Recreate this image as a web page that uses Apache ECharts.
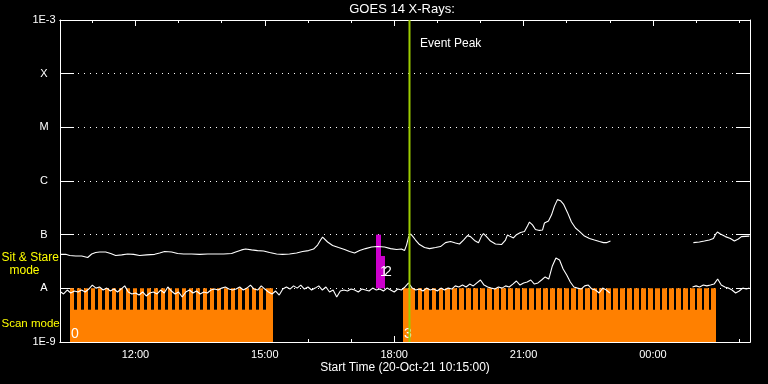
<!DOCTYPE html>
<html><head><meta charset="utf-8">
<script src="https://cdn.jsdelivr.net/npm/echarts@6/dist/echarts.min.js"></script>
<style>html,body{margin:0;padding:0;background:#000;}#c{width:768px;height:384px;}</style>
</head><body><div id="c"></div>
<script>
// ---- axis definitions (hours since 20-Oct-21 00:00) ----
const xMinHour = 10.25, xMaxHour = 26.25;
const xMajorTicks = [12, 15, 18, 21, 24];
const xMajorLabels = ['12:00', '15:00', '18:00', '21:00', '00:00'];
const xMinorTicks = [11, 13, 14, 16, 17, 19, 20, 22, 23, 25, 26];
const yTickExponents = [-9, -8, -7, -6, -5, -4, -3];
const yTickLabels = ['1E-9', 'A', 'B', 'C', 'M', 'X', '1E-3'];

// ---- long channel (upper curve), [hour, W/m^2] ----
const longChannelA = [
 [10.266,4.3e-8],[10.382,4.3e-8],[10.475,4.1e-8],[10.614,4.0e-8],[10.753,4.0e-8],[10.892,3.75e-8],
 [10.985,4.36e-8],[11.077,4.65e-8],[11.170,4.75e-8],[11.309,4.75e-8],[11.425,4.45e-8],[11.541,4.1e-8],
 [11.680,4.2e-8],[11.819,4.36e-8],[11.958,4.3e-8],[12.097,4.1e-8],[12.259,4.2e-8],[12.445,4.3e-8],
 [12.561,4.55e-8],[12.676,4.85e-8],[12.839,4.75e-8],[12.978,4.45e-8],[13.117,4.36e-8],[13.302,4.36e-8],
 [13.488,4.3e-8],[13.673,4.36e-8],[13.859,4.36e-8],[14.044,4.36e-8],[14.229,4.45e-8],[14.322,4.75e-8],
 [14.461,5.2e-8],[14.554,5.4e-8],[14.693,5.2e-8],[14.832,5.05e-8],[14.971,4.96e-8],[15.110,4.65e-8],
 [15.272,4.36e-8],[15.411,4.3e-8],[15.573,4.36e-8],[15.736,4.55e-8],[15.875,4.85e-8],[16.014,5.05e-8],
 [16.130,5.4e-8],[16.223,6.4e-8],[16.292,7.95e-8],[16.339,9.0e-8],[16.385,8.7e-8],[16.455,7.3e-8],
 [16.571,6.3e-8],[16.710,5.75e-8],[16.849,5.3e-8],[16.965,4.85e-8],[17.081,4.55e-8],[17.197,5.05e-8],
 [17.336,5.5e-8],[17.475,5.9e-8],[17.614,6.0e-8],[17.776,5.9e-8],[17.915,5.5e-8],[18.054,5.3e-8],
 [18.170,5.4e-8],[18.239,5.05e-8],[18.286,6.4e-8],[18.332,9.0e-8],[18.378,1.03e-7],[18.425,9.4e-8],
 [18.494,7.95e-8],[18.587,6.55e-8],[18.703,5.75e-8],[18.819,5.5e-8],[18.958,5.75e-8],[19.073,6.0e-8],
 [19.189,7.1e-8],[19.305,7.45e-8],[19.421,7.0e-8],[19.514,6.7e-8],[19.606,7.95e-8],[19.699,9.6e-8],
 [19.769,9.2e-8],[19.861,7.8e-8],[19.954,7.1e-8],[20.024,9.4e-8],[20.070,1.05e-7],[20.140,9.2e-8],
 [20.232,7.6e-8],[20.348,6.7e-8],[20.487,6.55e-8],[20.580,7.95e-8],[20.626,9.9e-8],[20.696,9.2e-8],
 [20.765,8.7e-8],[20.835,1.0e-7],[20.928,1.1e-7],[21.020,1.15e-7],[21.090,1.45e-7],[21.136,1.72e-7],
 [21.206,1.52e-7],[21.275,1.25e-7],[21.368,1.2e-7],[21.438,1.22e-7],[21.484,1.65e-7],[21.577,1.8e-7],
 [21.646,2.32e-7],[21.716,3.4e-7],[21.786,4.5e-7],[21.855,4.3e-7],[21.925,3.72e-7],[22.017,2.6e-7],
 [22.110,1.72e-7],[22.203,1.33e-7],[22.295,1.15e-7],[22.411,9.4e-8],[22.527,8.5e-8],[22.643,7.95e-8],
 [22.759,7.45e-8],[22.852,7.1e-8],[22.921,7.1e-8],[23.014,7.6e-8]
];
const longChannelB = [
 [24.937,7.1e-8],[25.076,7.3e-8],[25.192,7.6e-8],[25.308,7.95e-8],[25.401,8.5e-8],[25.447,1.0e-7],
 [25.494,1.12e-7],[25.563,1.03e-7],[25.679,9.2e-8],[25.795,8.5e-8],[25.888,7.6e-8],[25.980,8.3e-8],
 [26.050,9.2e-8],[26.235,9.4e-8]
];

// ---- short channel (lower curve), [clock, W/m^2] ----
const shortChannelA = [
 ['10:16',8.55e-9],['10:20',7.85e-9],['10:25',9.3e-9],['10:30',8.2e-9],['10:35',8.9e-9],['10:40',8.55e-9],
 ['10:45',9.3e-9],['10:50',8.55e-9],['10:55',9.7e-9],['11:00',1.15e-8],['11:05',1.01e-8],['11:10',1.06e-8],
 ['11:15',9.3e-9],['11:20',1.01e-8],['11:25',8.9e-9],['11:30',9.7e-9],['11:35',8.55e-9],['11:40',9.7e-9],
 ['11:45',1.11e-8],['11:50',8.55e-9],['11:55',7.85e-9],['12:00',8.2e-9],['12:05',7.5e-9],['12:10',8.55e-9],
 ['12:15',7.2e-9],['12:20',8.2e-9],['12:25',8.55e-9],['12:30',7.85e-9],['12:35',9.3e-9],['12:40',8.2e-9],
 ['12:45',1.06e-8],['12:50',8.9e-9],['12:55',7.85e-9],['13:00',8.55e-9],['13:05',6.9e-9],['13:10',8.55e-9],
 ['13:15',9.3e-9],['13:20',8.2e-9],['13:25',8.9e-9],['13:30',7.85e-9],['13:35',8.55e-9],['13:40',8.2e-9],
 ['13:45',9.3e-9],['13:50',9.7e-9],['13:55',9.3e-9],['14:00',1.01e-8],['14:05',1.06e-8],['14:10',9.7e-9],
 ['14:15',9.3e-9],['14:20',9.7e-9],['14:25',1.06e-8],['14:30',9.3e-9],['14:35',1.01e-8],['14:40',1.15e-8],
 ['14:45',9.7e-9],['14:50',9.3e-9],['14:55',1.11e-8],['15:00',9.7e-9],['15:05',8.55e-9],['15:10',7.85e-9],
 ['15:15',8.9e-9],['15:20',7.5e-9],['15:25',9.7e-9],['15:30',1.06e-8],['15:35',9.7e-9],['15:40',1.11e-8],
 ['15:45',1.01e-8],['15:50',1.15e-8],['15:55',9.7e-9],['16:00',1.06e-8],['16:05',9.3e-9],['16:10',1.01e-8],
 ['16:15',1.11e-8],['16:20',9.3e-9],['16:25',1.06e-8],['16:30',8.55e-9],['16:35',9.3e-9],['16:40',6.9e-9],
 ['16:45',8.9e-9],['16:50',9.3e-9],['16:55',8.9e-9],['17:00',9.7e-9],['17:05',9.3e-9],['17:10',8.55e-9],
 ['17:15',9.7e-9],['17:20',9.3e-9],['17:25',8.9e-9],['17:30',1.01e-8],['17:35',9.3e-9],['17:40',9.7e-9],
 ['17:45',8.9e-9],['17:50',1.01e-8],['17:55',9.3e-9],['18:00',8.55e-9],['18:05',9.7e-9],['18:10',9.3e-9],
 ['18:15',1.06e-8],['18:20',1.26e-8],['18:25',1.01e-8],['18:30',9.3e-9],['18:35',9.7e-9],['18:40',8.9e-9],
 ['18:45',1.01e-8],['18:50',9.3e-9],['18:55',9.7e-9],['19:00',8.9e-9],['19:05',1.01e-8],['19:10',9.3e-9],
 ['19:15',1.01e-8],['19:20',9.7e-9],['19:25',1.11e-8],['19:30',1.06e-8],['19:35',1.15e-8],['19:40',1.06e-8],
 ['19:45',1.2e-8],['19:50',1.11e-8],['19:55',1.26e-8],['20:00',1.43e-8],['20:05',1.15e-8],['20:10',1.06e-8],
 ['20:15',1.01e-8],['20:20',9.7e-9],['20:25',1.06e-8],['20:30',1.01e-8],['20:35',1.11e-8],['20:40',1.06e-8],
 ['20:45',1.2e-8],['20:50',1.37e-8],['20:55',1.15e-8],['21:00',1.26e-8],['21:05',1.31e-8],['21:10',1.43e-8],
 ['21:15',1.2e-8],['21:20',1.26e-8],['21:25',1.43e-8],['21:30',1.63e-8],['21:35',1.49e-8],['21:40',2.61e-8],
 ['21:45',3.67e-8],['21:50',3.38e-8],['21:55',2.29e-8],['22:00',1.77e-8],['22:05',1.31e-8],['22:10',1.06e-8],
 ['22:15',1.01e-8],['22:20',9.7e-9],['22:25',1.11e-8],['22:30',1.15e-8],['22:35',9.7e-9],['22:40',9.3e-9],
 ['22:45',8.2e-9],['22:50',1.01e-8],['22:55',9.3e-9],['23:00',8.2e-9]
];
const shortChannelB = [
 ['00:55',1.06e-8],['01:00',1.11e-8],['01:05',1.06e-8],['01:10',1.15e-8],['01:15',1.11e-8],['01:20',1.15e-8],
 ['01:25',1.2e-8],['01:30',1.49e-8],['01:35',1.15e-8],['01:40',1.06e-8],['01:45',1.01e-8],['01:50',9.3e-9],
 ['01:55',8.2e-9],['02:00',8.9e-9],['02:05',1.01e-8],['02:10',9.7e-9],['02:14',1.01e-8]
];

// ---- observing modes ----
const scanBlocks = [[10.475, 15.196, '0'], [18.215, 25.462, '3']];
const scanTopFlux = 1e-8, scanBottomFlux = 1e-9, scanGapBottomFlux = 4e-9;
const scanGaps = [
 10.583,10.745,10.908,11.070,11.232,11.395,11.557,11.718,11.880,12.043,12.205,12.367,12.530,12.692,
 12.853,13.017,13.178,13.340,13.502,13.665,13.827,13.988,14.152,14.313,14.475,14.638,14.800,14.962,
 18.486,18.648,18.811,18.973,19.135,19.297,19.459,19.622,19.784,19.946,20.108,20.270,20.433,20.595,
 20.757,20.919,21.082,21.244,21.406,21.568,21.730,21.893,22.055,22.217,22.379,22.541,22.704,22.866,
 23.028,23.190,23.353,23.515,23.677,23.839,24.001,24.164,24.326,24.488,24.650,24.813,24.975,25.137,25.299
];
const scanGapHours = 0.054;
const sitStareBars = [[17.589, 17.682, 1e-7, '1'], [17.705, 17.775, 4e-8, '2']];
const eventPeakHour = 18.354;

function clock(s) {
  const p = s.split(':').map(Number);
  let v = p[0] + p[1] / 60;
  if (v < 10) v += 24;
  return v;
}

const FONT = '"Liberation Sans", Arial, sans-serif';
const chart = echarts.init(document.getElementById('c'), null, {renderer: 'canvas'});

function xAxisDef(pos, ticks, len, labels) {
  return {
    type: 'value', position: pos, min: xMinHour, max: xMaxHour, gridIndex: 0,
    axisLine: {show: true, lineStyle: {color: '#fff', width: 1}},
    axisTick: {show: true, inside: true, length: len, customValues: ticks, lineStyle: {color: '#fff', width: 1}},
    axisLabel: labels ? {show: true, customValues: xMajorTicks, color: '#fff', fontFamily: FONT, fontSize: 11, margin: 7,
      formatter: v => { const i = xMajorTicks.indexOf(Math.round(v)); return i >= 0 ? xMajorLabels[i] : ''; }} : {show: false},
    splitLine: {show: false}
  };
}
function yAxisDef(pos, labels) {
  return {
    type: 'log', logBase: 10, position: pos, min: 1e-9, max: 1e-3, interval: 1, splitNumber: 6,
    axisLine: {show: true, lineStyle: {color: '#fff', width: 1}},
    axisTick: {show: true, inside: true, length: 14, lineStyle: {color: '#fff', width: 1}},
    axisLabel: labels ? {show: true, color: '#fff', fontFamily: FONT, fontSize: 11, align: 'center', margin: 16,
      showMinLabel: true, showMaxLabel: true,
      formatter: v => { const i = yTickExponents.indexOf(Math.round(Math.log10(v))); return i >= 0 ? yTickLabels[i] : ''; }} : {show: false},
    splitLine: labels ? {show: true, lineStyle: {color: '#fff', width: 1, type: [1, 5]}} : {show: false},
    minorTick: {show: false}
  };
}

function lineSeries(data) {
  return {type: 'line', xAxisIndex: 0, yAxisIndex: 0, data: data, showSymbol: false, symbol: 'none',
    lineStyle: {color: '#fff', width: 1.1}, z: 5, animation: false, silent: true};
}

function txt(text, x, y, size, color, align) {
  return {type: 'text', x: x, y: y, silent: true, z: 20,
    style: {text: text, fill: color, font: size + 'px ' + FONT, textAlign: align, align: align,
      textVerticalAlign: 'middle', verticalAlign: 'middle'}};
}

const option = {
  backgroundColor: '#000',
  animation: false,
  grid: {left: 60, right: 18, top: 20, bottom: 42, containLabel: false},
  xAxis: [
    xAxisDef('bottom', xMajorTicks, 6, true),
    xAxisDef('bottom', xMinorTicks, 3, false),
    xAxisDef('top', xMajorTicks, 6, false),
    xAxisDef('top', xMinorTicks, 3, false)
  ],
  yAxis: [yAxisDef('left', true), yAxisDef('right', false)],
  series: [
    {
      type: 'custom', xAxisIndex: 0, yAxisIndex: 0, z: 1, silent: true,
      data: scanBlocks.map(b => [b[0], scanBottomFlux, b[1]]),
      encode: {x: [0, 2], y: 1},
      renderItem: (params, api) => {
        const b = scanBlocks[params.dataIndex];
        const p0 = api.coord([api.value(0), scanTopFlux]);
        const p1 = api.coord([api.value(2), scanBottomFlux]);
        return {type: 'group', children: [
          {type: 'rect', shape: {x: Math.round(p0[0]), y: p0[1], width: Math.round(p1[0]) - Math.round(p0[0]), height: p1[1] - p0[1]},
            style: {fill: '#ff8000'}},
          {type: 'text', z2: 10, style: {text: b[2], x: Math.round(p0[0]) + 1, y: p1[1] - 1, fill: '#fff',
            font: '14px ' + FONT, textAlign: 'left', align: 'left', textVerticalAlign: 'bottom', verticalAlign: 'bottom'}}
        ]};
      }
    },
    {
      type: 'custom', xAxisIndex: 0, yAxisIndex: 0, z: 2, silent: true,
      data: scanGaps.map(t => [t, scanGapBottomFlux]),
      renderItem: (params, api) => {
        const a = api.coord([api.value(0), scanTopFlux]);
        const b = api.coord([api.value(0) + scanGapHours, scanGapBottomFlux]);
        const x0 = Math.round(a[0]), x1 = Math.round(b[0]);
        return {type: 'rect', shape: {x: x0, y: a[1] - 1, width: Math.max(1, x1 - x0), height: b[1] - a[1] + 1},
          style: {fill: '#000'}};
      }
    },
    {
      type: 'custom', xAxisIndex: 0, yAxisIndex: 0, z: 3, silent: true,
      data: sitStareBars.map(b => [b[0], b[2], b[1]]),
      encode: {x: [0, 2], y: 1},
      renderItem: (params, api) => {
        const s = sitStareBars[params.dataIndex];
        const p0 = api.coord([api.value(0), api.value(1)]);
        const p1 = api.coord([api.value(2), scanTopFlux]);
        return {type: 'group', children: [
          {type: 'rect', shape: {x: Math.round(p0[0]), y: p0[1], width: Math.round(p1[0]) - Math.round(p0[0]), height: p1[1] - p0[1]},
            style: {fill: '#cc00cc'}},
          {type: 'text', z2: 10, style: {text: s[3], x: Math.round(p1[0]) - 1, y: p1[1] - 16, fill: '#fff',
            font: '14px ' + FONT, textAlign: 'left', align: 'left', textVerticalAlign: 'middle', verticalAlign: 'middle'}}
        ]};
      }
    },
    lineSeries(longChannelA),
    lineSeries(longChannelB),
    lineSeries(shortChannelA.map(d => [clock(d[0]), d[1]])),
    lineSeries(shortChannelB.map(d => [clock(d[0]), d[1]])),
    {
      type: 'custom', xAxisIndex: 0, yAxisIndex: 0, z: 8, silent: true,
      data: [[eventPeakHour, 1e-3]],
      renderItem: (params, api) => {
        const a = api.coord([api.value(0), 1e-3]);
        const b = api.coord([api.value(0), 1e-9]);
        return {type: 'line', shape: {x1: a[0], y1: a[1], x2: b[0], y2: b[1]},
          style: {stroke: '#9ccc00', lineWidth: 2}};
      }
    }
  ],
  graphic: [
    txt('GOES 14 X-Rays:', 402, 9.5, 13, '#fff', 'center'),
    txt('Start Time (20-Oct-21 10:15:00)', 405, 368, 12, '#fff', 'center'),
    txt('Event Peak', 420, 43.5, 12, '#fff', 'left'),
    txt('Sit & Stare', 1.5, 258, 12, '#ffff00', 'left'),
    txt('mode', 24.5, 271, 12, '#ffff00', 'center'),
    txt('Scan mode', 1.5, 323.5, 11.5, '#ffff00', 'left')
  ]
};
chart.setOption(option);
</script>
</body></html>
